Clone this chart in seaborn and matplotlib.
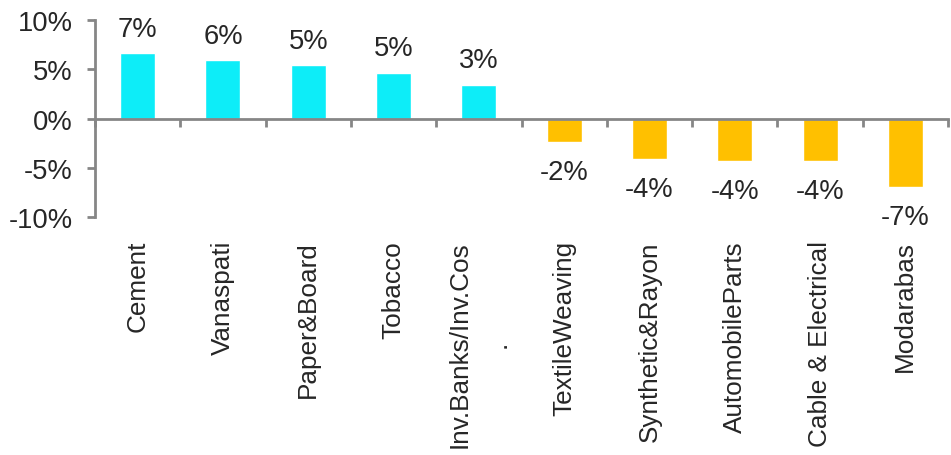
import matplotlib
matplotlib.use("Agg")
import matplotlib.pyplot as plt
import seaborn as sns
import pandas as pd
from matplotlib.ticker import FuncFormatter, FixedLocator
import matplotlib.transforms as mtransforms

sectors = ["Cement", "Vanaspati", "Paper&Board", "Tobacco", "Inv.Banks/Inv.Cos\n.",
           "TextileWeaving", "Synthetic&Rayon", "AutomobileParts", "Cable & Electrical", "Modarabas"]
returns = [6.6, 5.9, 5.4, 4.6, 3.45, -2.4, -4.15, -4.3, -4.3, -6.95]
value_labels = ["7%", "6%", "5%", "5%", "3%", "-2%", "-4%", "-4%", "-4%", "-7%"]
y_ticks = [-10, -5, 0, 5, 10]

sns.set_style("white")
plt.rcParams['font.family'] = ['Liberation Sans', 'DejaVu Sans']

df = pd.DataFrame({"sector": sectors, "ret": returns})
df["sign"] = ["pos" if v >= 0 else "neg" for v in returns]

fig = plt.figure(figsize=(9.51, 4.56), dpi=100)
ax = fig.add_axes([95/951, (456-218)/456, (948-95)/951, 197/456])

sns.barplot(data=df, x="sector", y="ret", hue="sign",
            palette={"pos": "#0DEDF8", "neg": "#FFC000"},
            dodge=False, width=0.41, legend=False, ax=ax, saturation=1)

ax.set_xlim(-0.5, len(sectors) - 0.5)
ax.set_ylim(-10, 10)
ax.set_xlabel("")
ax.set_ylabel("")

FS = 19.7
FS_CAT = 18.8
gray = "#868686"
for s in ["top", "right"]:
    ax.spines[s].set_visible(False)
ax.spines["left"].set_color(gray)
ax.spines["left"].set_linewidth(2)
ax.spines["bottom"].set_color(gray)
ax.spines["bottom"].set_linewidth(2)
ax.spines["bottom"].set_position(("data", 0))

ax.yaxis.set_major_locator(FixedLocator(y_ticks))
ax.yaxis.set_major_formatter(FuncFormatter(lambda v, p: f"{int(v)}%"))
ax.tick_params(axis="y", direction="out", length=6, width=2, color=gray,
               labelsize=FS, pad=10, left=True)

ax.xaxis.set_major_locator(FixedLocator([i - 0.5 for i in range(len(sectors) + 1)]))
ax.set_xticklabels([])
ax.tick_params(axis="x", direction="out", length=6, width=2, color=gray, bottom=True)

# category labels below plot area
trans = mtransforms.blended_transform_factory(ax.transData, ax.transAxes)
off = mtransforms.ScaledTranslation(0, -23/100, fig.dpi_scale_trans)
for i, lab in enumerate(sectors):
    ax.text(i, 0, lab, transform=trans + off, rotation=90, ha="center", va="top",
            multialignment="center", fontsize=FS_CAT, linespacing=1.8, clip_on=False)

# value labels
for i, (v, lab) in enumerate(zip(returns, value_labels)):
    if v >= 0:
        ax.annotate(lab, (i, v), xytext=(0, 8.5), textcoords="offset points",
                    ha="center", va="bottom", fontsize=FS)
    else:
        ax.annotate(lab, (i, v), xytext=(0, -12), textcoords="offset points",
                    ha="center", va="top", fontsize=FS)

fig.savefig("out.png", dpi=100)
